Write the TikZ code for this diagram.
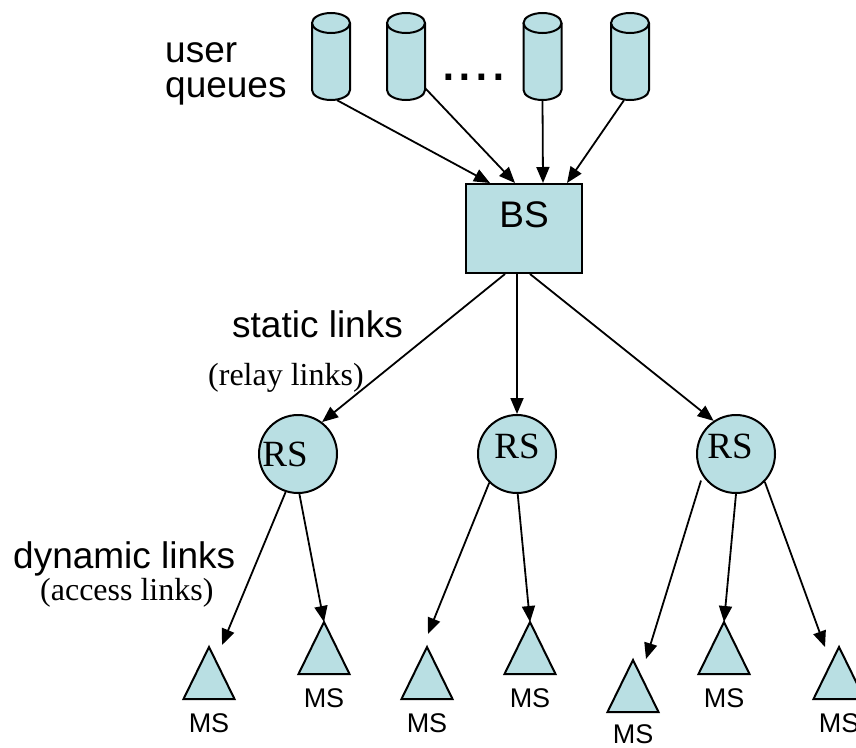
\documentclass[tikz,border=0pt]{standalone}
\usepackage{fontspec}
\setmainfont{Liberation Sans}
\newfontfamily\timesfont{Liberation Serif}
\usetikzlibrary{arrows.meta,calc}
\definecolor{nodefill}{RGB}{185,223,227}
\tikzset{
  shapeline/.style={draw=black, line width=2pt, fill=nodefill},
  link/.style={line width=1.8pt, -{Triangle[length=16pt,width=13pt]}},
  sanslabel/.style={font=\fontsize{37}{37}\selectfont, inner sep=0pt},
  serifnote/.style={font=\timesfont\fontsize{32}{32}\selectfont, inner sep=0pt},
  rslabel/.style={font=\timesfont\fontsize{37}{37}\selectfont, inner sep=0pt},
  mslabel/.style={font=\fontsize{27}{27}\selectfont, inner sep=0pt},
  cylbox/.style={minimum width=38pt, minimum height=87pt, inner sep=0pt},
  relay/.style={shapeline, circle, minimum size=78pt, inner sep=0pt},
}
% a queue drawn as an upright cylinder centred at (#2,#3)
\newcommand{\queue}[3]{%
  \begin{scope}[shift={(#2,#3)}]
    \node[cylbox] (#1) at (0,0) {};
    \fill[nodefill] (-19,-33.5) -- (-19,33.5)
      arc[start angle=180,end angle=0,x radius=19,y radius=10] -- (19,-33.5) -- cycle;
    \draw[line width=2pt] (-19,-33.5) -- (-19,33.5)
      arc[start angle=180,end angle=0,x radius=19,y radius=10] -- (19,-33.5);
    \filldraw[shapeline] (0,-33.5) ellipse[x radius=19,y radius=10];
  \end{scope}}
% a mobile station: triangle with its apex at (#2,#3), label #4 below the apex
\newcommand{\mobile}[4]{%
  \coordinate (#1) at (#2,#3);
  \filldraw[shapeline] (#1) -- ++(-25.5,52) -- ++(51,0) -- cycle;
  \node[mslabel] (#1lab) at ($(#1)+(0,#4)$) {MS};}
\begin{document}
\begin{tikzpicture}[x=1pt,y=-1pt]
\useasboundingbox (0,0) rectangle (856,747);

% user queues
\queue{q1}{331}{56.5}
\queue{q2}{406}{56.5}
\queue{q3}{542.5}{56.5}
\queue{q4}{630}{56.5}
\node[font=\fontsize{60}{60}\selectfont, inner sep=0pt, anchor=base west] (dots) at (440,80) {....};
\node[sanslabel, anchor=base west] (userlab) at (165,62) {user};
\node[sanslabel, anchor=base west] (queuelab) at (165,97) {queues};

% base station
\node[shapeline, minimum width=116pt, minimum height=89pt, inner sep=0pt] (bs) at (524,228.5) {};
\node[sanslabel] (bslab) at (524,215) {BS};

% relay stations
\node[relay] (rs1) at (298,454) {};
\node[relay] (rs2) at (517,454) {};
\node[relay] (rs3) at (736,454) {};
\node[rslabel] (rs1lab) at (285,454) {RS};
\node[rslabel] (rs2lab) at (517,446) {RS};
\node[rslabel] (rs3lab) at (730,446) {RS};

% mobile stations
\mobile{ms1}{209}{647}{76}
\mobile{ms2}{324}{622}{76}
\mobile{ms3}{427}{647}{76}
\mobile{ms4}{530}{622}{76}
\mobile{ms5}{633}{660}{74}
\mobile{ms6}{724}{622}{76}
\mobile{ms7}{839}{647}{76}

% link labels
\node[sanslabel, anchor=base west] (staticlab) at (232,337) {static links};
\node[serifnote, anchor=base west] (relaylab) at (208,385) {(relay links)};
\node[sanslabel, anchor=base west] (dynlab) at (13,568) {dynamic links};
\node[serifnote, anchor=base west] (accesslab) at (40,600) {(access links)};

% queues into the base station
\draw[link] ([xshift=6pt]q1.south) -- ([xshift=-34pt]bs.north);
\draw[link] ([yshift=12pt]q2.south east) -- ([xshift=-9pt]bs.north);
\draw[link] (q3.south) -- ([xshift=19pt]bs.north);
\draw[link] ([xshift=-6pt]q4.south) -- ([xshift=43pt]bs.north);

% static links
\draw[link] ([xshift=-19pt]bs.south) -- (rs1.53);
\draw[link] ([xshift=-7pt]bs.south) -- (rs2.north);
\draw[link] ([xshift=6pt]bs.south) -- (rs3.124);

% dynamic links
\coordinate (a1) at (222,645);
\coordinate (a3) at (428,634);
\coordinate (a5) at (646,659);
\coordinate (a7) at (825,647);
\draw[link] (rs1.252) -- (a1);
\draw[link] (rs1.272) -- (ms2);
\draw[link] (rs2.226) -- (a3);
\draw[link] (rs2.271) -- (ms4);
\draw[link, shorten <=5pt] (rs3.213) -- (a5);
\draw[link] (rs3.270) -- (ms6);
\draw[link] (rs3.316) -- (a7);
\end{tikzpicture}
\end{document}
